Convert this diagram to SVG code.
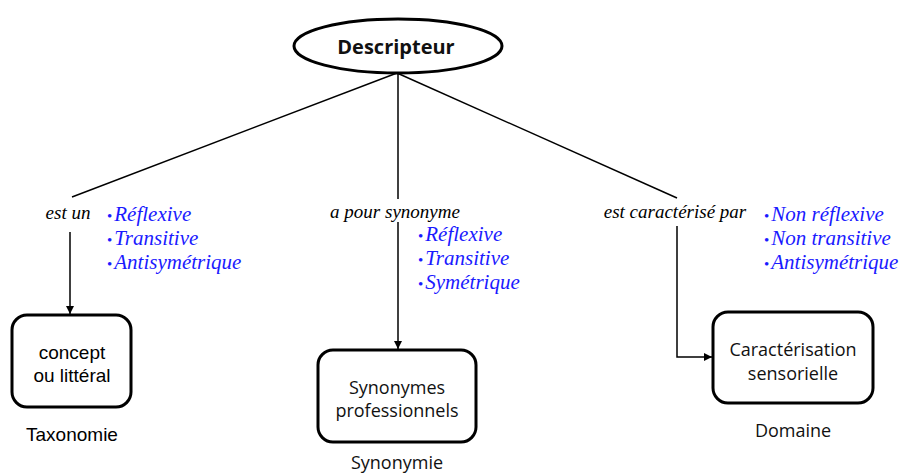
<svg xmlns="http://www.w3.org/2000/svg" width="901" height="475" viewBox="0 0 901 475">
<defs>
<marker id="arr" viewBox="0 0 10 10" refX="10" refY="5" markerWidth="8" markerHeight="8" markerUnits="userSpaceOnUse" orient="auto">
<path d="M0,0 L10,5 L0,10 Z" fill="#000"/>
</marker>
<style>
.ln{stroke:#000;stroke-width:1.5;fill:none}
.box{fill:#fff;stroke:#000;stroke-width:3}
.lbl{font-family:"Liberation Serif",serif;font-style:italic;font-size:19px;fill:#000}
.prop{font-family:"Liberation Serif",serif;font-style:italic;font-size:21px;fill:#1a1aff}
.bul{font-style:normal;font-size:15px}
.nt{font-family:"Liberation Sans",Arial,sans-serif;font-size:19px;fill:#000;text-anchor:middle}
.nc{font-family:"Open Sans","Liberation Sans",sans-serif;font-size:18px;fill:#111;text-anchor:middle}
</style>
</defs>
<rect width="901" height="475" fill="#fff"/>
<g id="connectors">
<path class="ln" d="M397,73 L72,197"/>
<path class="ln" d="M397,73 L677,198"/>
<path class="ln" d="M398,74 L398,199"/>
<path class="ln" d="M70,232 L70,314" marker-end="url(#arr)"/>
<path class="ln" d="M398,222 L398,349" marker-end="url(#arr)"/>
<path class="ln" d="M677,226 L677,357 L712,357" marker-end="url(#arr)"/>
<text class="lbl" x="68" y="219" text-anchor="middle">est un</text>
<text class="lbl" x="395" y="218" text-anchor="middle">a pour synonyme</text>
<text class="lbl" x="675" y="218" text-anchor="middle">est caractérisé par</text>
<text class="prop" x="107"><tspan x="107" y="221"><tspan class="bul">•</tspan><tspan dx="2">Réflexive</tspan></tspan><tspan x="107" y="245"><tspan class="bul">•</tspan><tspan dx="2">Transitive</tspan></tspan><tspan x="107" y="269"><tspan class="bul">•</tspan><tspan dx="2">Antisymétrique</tspan></tspan></text>
<text class="prop" x="418"><tspan x="418" y="241"><tspan class="bul">•</tspan><tspan dx="2">Réflexive</tspan></tspan><tspan x="418" y="265"><tspan class="bul">•</tspan><tspan dx="2">Transitive</tspan></tspan><tspan x="418" y="289"><tspan class="bul">•</tspan><tspan dx="2">Symétrique</tspan></tspan></text>
<text class="prop" x="764"><tspan x="764" y="221"><tspan class="bul">•</tspan><tspan dx="2">Non réflexive</tspan></tspan><tspan x="764" y="245"><tspan class="bul">•</tspan><tspan dx="2">Non transitive</tspan></tspan><tspan x="764" y="269"><tspan class="bul">•</tspan><tspan dx="2">Antisymétrique</tspan></tspan></text>
</g>
<g id="descripteur">
<ellipse cx="398" cy="46" rx="104" ry="27" fill="#fff" stroke="#000" stroke-width="3"/>
<text x="396" y="54" text-anchor="middle" font-family="'Open Sans','Liberation Sans',sans-serif" font-weight="bold" font-size="20" fill="#111">Descripteur</text>
</g>
<g id="concept">
<rect class="box" x="12" y="315" width="119" height="92" rx="15"/>
<text class="nt" x="72" y="359">concept</text>
<text class="nt" x="72" y="382">ou littéral</text>
<text class="nt" x="72" y="441" font-size="18">Taxonomie</text>
</g>
<g id="synonymes">
<rect class="box" x="318" y="350" width="158" height="92" rx="15"/>
<text class="nc" x="397" y="394">Synonymes</text>
<text class="nc" x="397" y="417">professionnels</text>
<text class="nc" x="397" y="469">Synonymie</text>
</g>
<g id="caracterisation">
<rect class="box" x="713" y="312" width="160" height="91" rx="15"/>
<text class="nc" x="793" y="356">Caractérisation</text>
<text class="nc" x="793" y="380">sensorielle</text>
<text class="nc" x="793" y="437">Domaine</text>
</g>
</svg>
